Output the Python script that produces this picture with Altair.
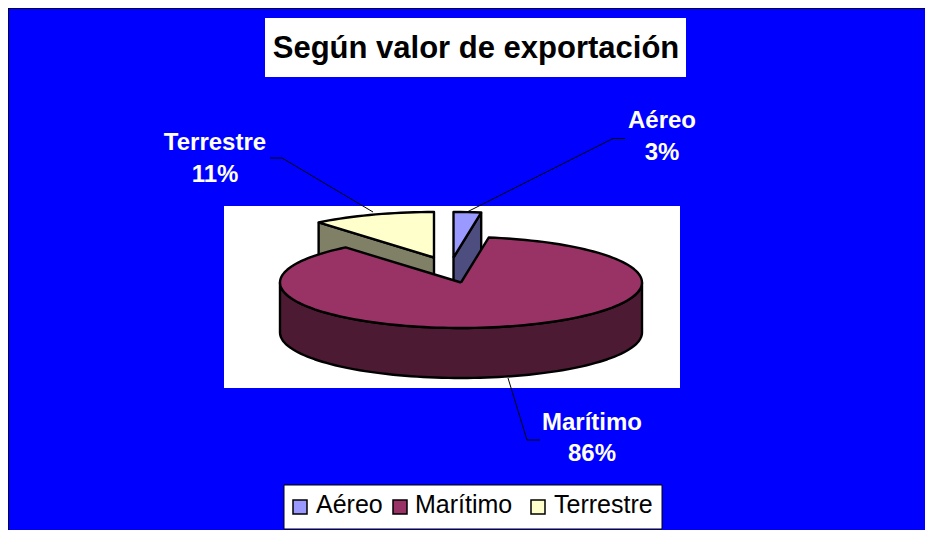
import math
import altair as alt
import pandas as pd

# ---- chart values ----
categories = ["Aéreo", "Marítimo", "Terrestre"]
shares = [3, 86, 11]
title_text = "Según valor de exportación"

# ---- styles ----
TOP = {"Aéreo": "#9999ff", "Marítimo": "#993366", "Terrestre": "#ffffcc"}
WALL = {"Aéreo": "#4d4d80", "Marítimo": "#4d1a33", "Terrestre": "#808066"}
RX, RY, DEPTH = 181, 45.5, 50
CENTRE = {"Aéreo": (453.5, 257.5), "Marítimo": (461, 282.5), "Terrestre": (434, 257.5)}
W, H = 917, 522
OX, OY = 8, 8  # page margin


def px(v):
    return alt.value(v - OX)


def py(v):
    return alt.value(v - OY)


x_scale = alt.Scale(domain=[OX, OX + W], range=[0, W], nice=False, zero=False)
y_scale = alt.Scale(domain=[OY, OY + H], range=[0, H], nice=False, zero=False)


def rim(name, t0, t1, dz=0.0):
    cx, cy = CENTRE[name]
    n = max(2, int(abs(t1 - t0) / 2))
    pts = []
    for k in range(n + 1):
        t = math.radians(t0 + (t1 - t0) * k / n)
        pts.append((cx + RX * math.sin(t), cy - RY * math.cos(t) + dz))
    return pts


def poly(points, fill):
    closed = list(points) + [points[0]]
    df = pd.DataFrame({"x": [p[0] for p in closed], "y": [p[1] for p in closed], "i": range(len(closed))})
    return alt.Chart(df).mark_line(
        fill=fill, stroke="black", strokeWidth=2.4, strokeJoin="round", clip=False
    ).encode(
        x=alt.X("x:Q", scale=x_scale, axis=None),
        y=alt.Y("y:Q", scale=y_scale, axis=None),
        order=alt.Order("i:Q"),
    )


def box(x0, y0, x1, y1, fill, stroke=None, sw=1):
    kw = {"fill": fill}
    if stroke:
        kw.update(stroke=stroke, strokeWidth=sw)
    return alt.Chart(pd.DataFrame({"a": [0]})).mark_rect(**kw).encode(
        x=px(x0), x2=px(x1), y=py(y0), y2=py(y1)
    )


def seg(x0, y0, x1, y1, sw=1):
    return alt.Chart(pd.DataFrame({"a": [0]})).mark_rule(color="black", strokeWidth=sw).encode(
        x=px(x0), x2=px(x1), y=py(y0), y2=py(y1)
    )


def label(text, x, y, size, color="white", bold=True, align="center"):
    return alt.Chart(pd.DataFrame({"t": [text]})).mark_text(
        text=text, font="Liberation Sans", fontSize=size, fontWeight="bold" if bold else "normal",
        color=color, align=align, baseline="alphabetic",
    ).encode(x=px(x), y=py(y))


# slice angles, clockwise from the back of the pie
bounds = {}
t = 0.0
for c, s in zip(categories, shares):
    bounds[c] = (t, t + s * 3.6)
    t += s * 3.6
# the small slice reads a little narrower in the drawn perspective
bounds["Aéreo"] = (0.0, 8.8)
bounds["Marítimo"] = (8.8, bounds["Marítimo"][1])

layers = [
    seg(8, 8, 925, 8, 1.5),
    seg(8, 8, 8, 530, 1.5),
    box(224, 206, 680, 388, "white"),
    box(265, 18, 686, 77, "white"),
]

# Terrestre
name = "Terrestre"
t0, t1 = bounds[name]
c = CENTRE[name]
edge = rim(name, t0, t0)[0]
layers.append(poly([edge, c, (c[0], c[1] + DEPTH), (edge[0], edge[1] + DEPTH)], WALL[name]))
layers.append(poly([c] + rim(name, t0, t1), TOP[name]))

# Aéreo
name = "Aéreo"
t0, t1 = bounds[name]
c = CENTRE[name]
edge = rim(name, t1, t1)[0]
layers.append(poly([edge, c, (c[0], c[1] + DEPTH), (edge[0], edge[1] + DEPTH)], WALL[name]))
layers.append(poly([c] + rim(name, t0, t1), TOP[name]))

# Marítimo
name = "Marítimo"
t0, t1 = bounds[name]
front = rim(name, 90, 270)
layers.append(poly(front + [(p[0], p[1] + DEPTH) for p in reversed(front)], WALL[name]))
layers.append(poly([CENTRE[name]] + rim(name, t0, t1), TOP[name]))

# leader lines
layers += [
    seg(373, 212, 282, 158), seg(282, 158, 270, 158),
    seg(467, 212, 613, 138.5), seg(613, 138.5, 625, 138.5),
    seg(508, 378, 527, 440), seg(527, 440, 540, 440),
]

# data labels
pos = {"Aéreo": (662, 128, 160), "Marítimo": (592, 430, 461), "Terrestre": (215, 150, 182)}
for c_, s_ in zip(categories, shares):
    x_, y1_, y2_ = pos[c_]
    layers.append(label(c_, x_, y1_, 24))
    layers.append(label(f"{s_}%", x_, y2_, 24))

# title
layers.append(label(title_text, 476, 58, 31, color="black"))

# legend
layers.append(box(284, 485, 662, 529, "white", "black", 1))
lx = {"Aéreo": (293, 316), "Marítimo": (393, 415), "Terrestre": (531, 554)}
for c_ in categories:
    a, b = lx[c_]
    layers.append(box(a, 500, a + 14, 514, TOP[c_], "black", 1.5))
    layers.append(label(c_, b, 513, 25, color="black", bold=False, align="left"))

chart = alt.layer(*layers).properties(
    width=W, height=H, background="#0000ff", padding=0, autosize=alt.AutoSizeParams(type="none")
).configure_view(stroke=None)

chart.save("out.html", embed_options={"renderer": "svg", "actions": False})
